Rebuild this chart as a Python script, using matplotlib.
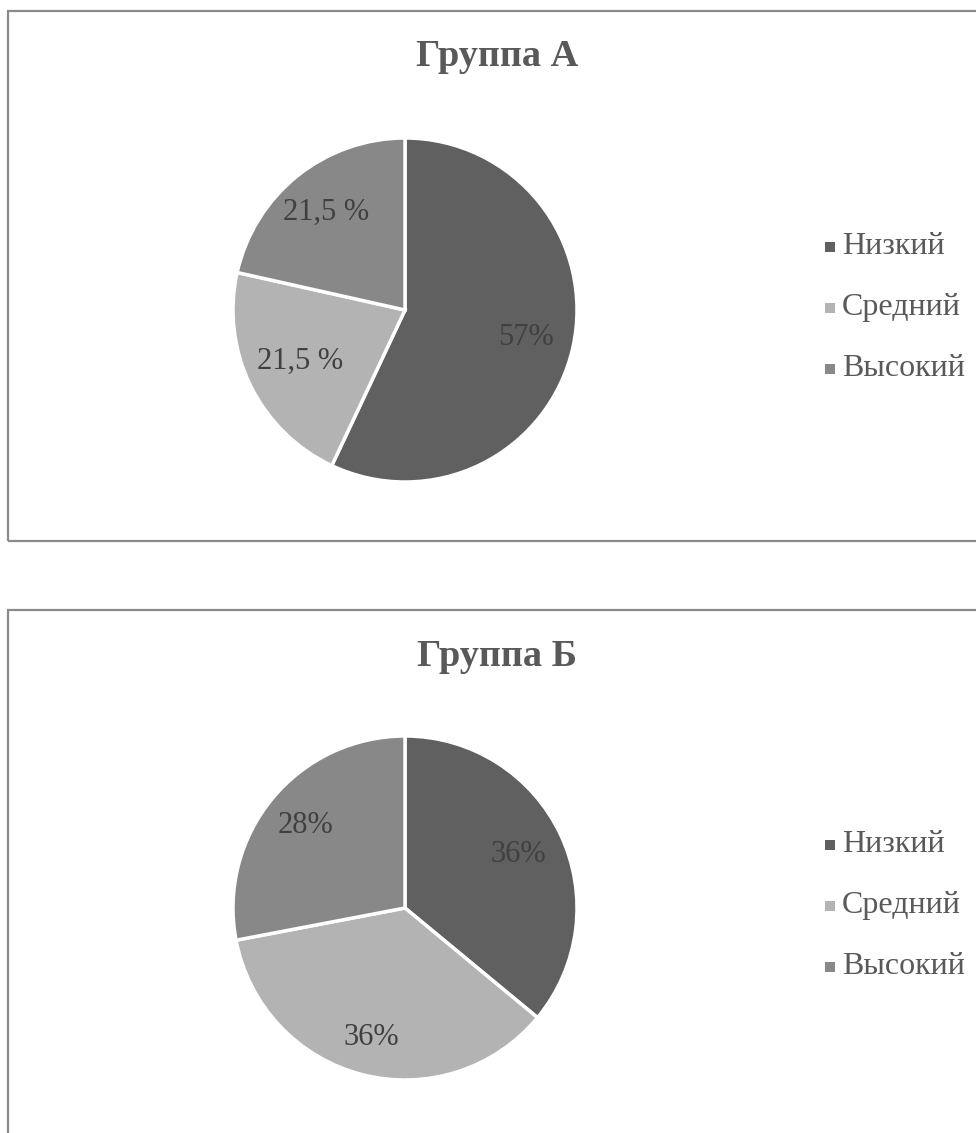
import matplotlib
matplotlib.use("Agg")
import matplotlib.pyplot as plt
import numpy as np
from matplotlib.patches import Rectangle

plt.rcParams["font.family"] = ["Liberation Serif", "DejaVu Serif"]

categories = ["Низкий", "Средний", "Высокий"]
colors = ["#606060", "#b3b3b3", "#888888"]

titles = ["Группа А", "Группа Б"]
values_a = [57, 21.5, 21.5]
values_b = [36, 36, 28]
labels_a = ["57%", "21,5 %", "21,5 %"]
labels_b = ["36%", "36%", "28%"]
# how far from the centre each label sits (fraction of radius)
dist_a = [0.72, 0.68, 0.73]
dist_b = [0.73, 0.78, 0.75]

W, H = 976, 1133
fig = plt.figure(figsize=(W / 100, H / 100), dpi=100)


def px(x, y):
    return x / W, 1 - y / H


# chart frames
for top, bottom in [(11, 541), (610, 1160)]:
    x0, y0 = px(8, bottom)
    fig.patches.append(Rectangle((x0, y0), 1.2, (bottom - top) / H,
                                 transform=fig.transFigure, fill=False,
                                 edgecolor="#8a8a8a", linewidth=1.6))

charts = [
    (titles[0], values_a, labels_a, dist_a, 310, 57),
    (titles[1], values_b, labels_b, dist_b, 908, 656),
]

for title, vals, labs, dists, cy, ty in charts:
    r = 172
    cx = 405
    x0, y0 = px(cx - r, cy + r)
    ax = fig.add_axes([x0, y0, 2 * r / W, 2 * r / H])
    wedges, _ = ax.pie(vals, colors=colors, startangle=90, counterclock=False,
                       wedgeprops=dict(edgecolor="white", linewidth=2.5))
    ax.set_xlim(-1, 1)
    ax.set_ylim(-1, 1)
    ax.set_aspect("equal")
    ax.axis("off")
    for w, lab, d in zip(wedges, labs, dists):
        ang = np.deg2rad((w.theta1 + w.theta2) / 2)
        ax.text(d * np.cos(ang), d * np.sin(ang), lab, ha="center", va="center",
                fontsize=22, color="#404040")

    tx, tyf = px(cx + 92, ty)
    fig.text(tx, tyf, title, ha="center", va="center", fontsize=27.5,
             fontweight="bold", color="#595959")

    # legend
    for i, (name, col) in enumerate(zip(categories, colors)):
        ly = cy - 63 + i * 61
        mx, my = px(830, ly)
        fig.patches.append(Rectangle((mx - 5 / W, my - 5 / H), 10 / W, 10 / H,
                                     transform=fig.transFigure,
                                     facecolor=col, edgecolor="none"))
        lx, lyf = px(842, ly)
        fig.text(lx, lyf, name, ha="left", va="center", fontsize=23,
                 color="#595959")

fig.savefig("out.png", dpi=100, facecolor="white")
